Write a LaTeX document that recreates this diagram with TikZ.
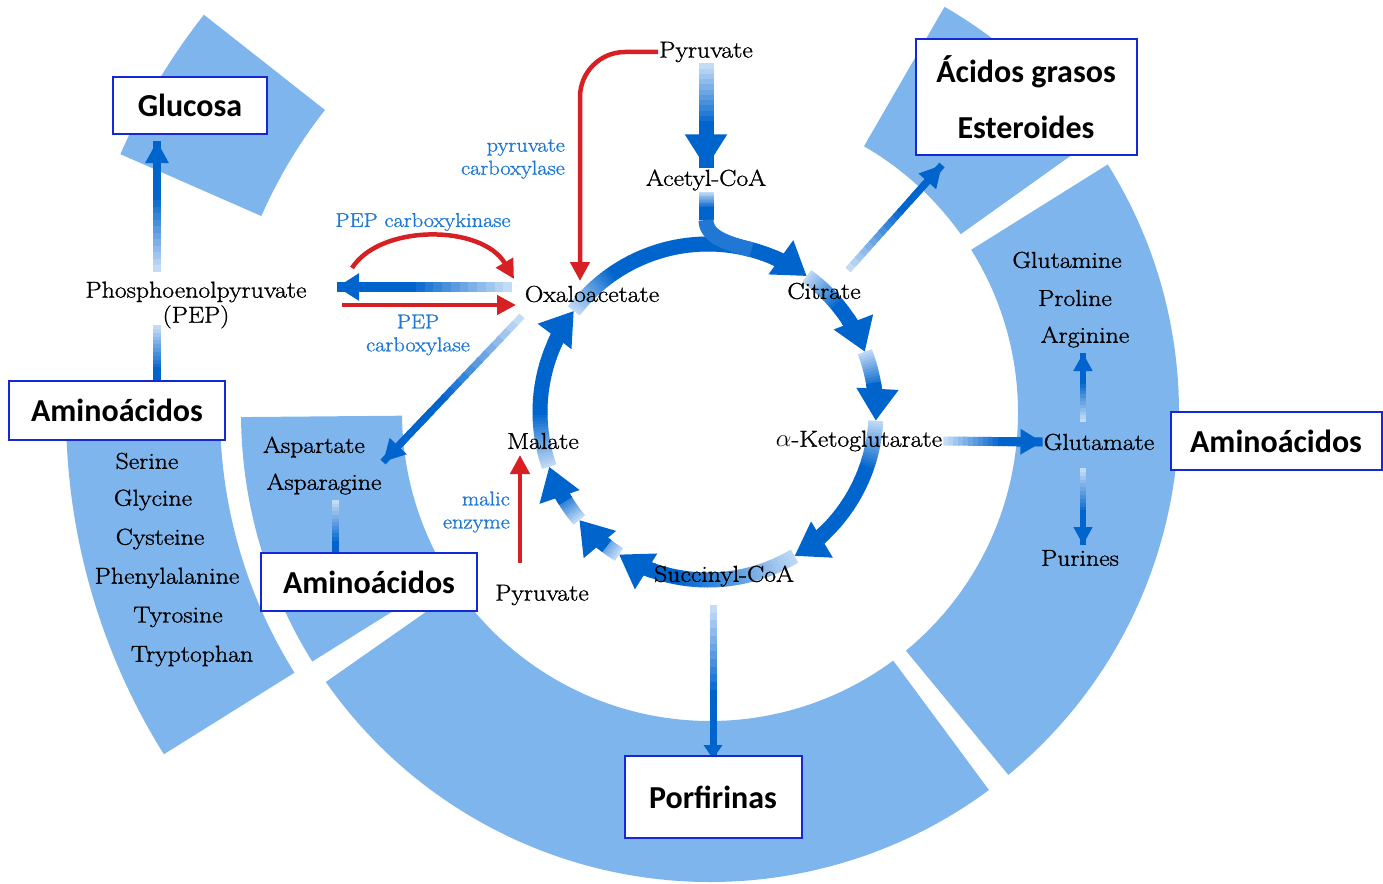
\documentclass[tikz,border=0pt]{standalone}
\usepackage{fontspec}
\newfontfamily\boxfont{Carlito}
\newfontfamily\labelfont{Latin Modern Roman}[FakeStretch=1.12,
  BoldFont={Latin Modern Roman}, BoldFeatures={FakeBold=1.2}]
\usetikzlibrary{arrows.meta,calc}

% Define colors
\definecolor{ringblue}{RGB}{126,181,236}
\definecolor{tcadark}{RGB}{0,100,205}
\definecolor{tcalight}{RGB}{222,236,252}
\definecolor{tcared}{RGB}{215,32,35}
\definecolor{enzblue}{RGB}{30,120,212}
\definecolor{boxblue}{RGB}{20,40,215}

\pgfdeclarelayer{pieces}
\pgfdeclarelayer{flows}
\pgfsetlayers{pieces,flows,main}

\tikzset{
  met/.style={font=\labelfont\bfseries\fontsize{23}{25}\selectfont, inner sep=1pt},
  enz/.style={font=\labelfont\bfseries\fontsize{20}{23}\selectfont, text=enzblue, inner sep=1pt},
  resbox/.style={draw=boxblue, line width=2pt, fill=white, inner sep=0pt,
    font=\boxfont\bfseries\fontsize{32}{38}\selectfont},
  redflow/.style={draw=tcared, line width=4.5pt, -{Triangle[width=19pt,length=19pt]}},
}

% sector of a ring round the hub: start, end, inner and outer radius
\newcommand\ringpiece[4]{%
  \fill[ringblue] ($(hub)+(#1:#3)$) arc[start angle=#1, end angle=#2, radius=#3]
    -- ($(hub)+(#2:#4)$) arc[start angle=#2, end angle=#1, radius=#4] -- cycle;
}

% straight line going from pale to dark blue
\newcommand\fadeline[3]{%
  \foreach \k in {0,...,19}{%
    \pgfmathsetmacro\fadeA{\k/20}%
    \pgfmathsetmacro\fadeB{min(1,(\k+1.3)/20)}%
    \pgfmathtruncatemacro\fadepct{min(100,12+\k*8)}%
    \draw[line width=#3, draw=tcadark!\fadepct!tcalight] ($(#1)!\fadeA!(#2)$) -- ($(#1)!\fadeB!(#2)$);
  }%
}
\newcommand\fadearrow[5]{%
  \fadeline{#1}{#2}{#3}%
  \draw[line width=#3, tcadark, -{Triangle[width=#4,length=#5]}] ($(#1)!0.65!(#2)$) -- (#2);
}

% one step of the cycle: start angle, tip angle, fade length
\newcommand\tcastep[3]{%
  \pgfmathtruncatemacro\tcastop{#2-8}%
  \pgfmathtruncatemacro\tcanext{#1+1}%
  \foreach \a in {#1,\tcanext,...,\tcastop}{%
    \pgfmathtruncatemacro\tcapct{min(100,15+85*(\a-(#1))/#3)}%
    \draw[line width=15pt, draw=tcadark!\tcapct!tcalight] ($(tca)+(\a:168)$) arc[start angle=\a, end angle=\a+1.2, radius=168];
  }%
  \draw[line width=15pt, tcadark, -{Triangle[width=40pt,length=32pt]}] ($(tca)+(#2-13:168)$) arc[start angle=#2-13, end angle=#2, radius=168];
}

\begin{document}
\begin{tikzpicture}[x=1pt, y=-1pt]
\useasboundingbox (0,0) rectangle (1383,883);
\coordinate (hub) at (710,413);
\coordinate (tca) at (708,412);

% Outer ring of products
\begin{pgfonlayer}{pieces}
\ringpiece{-32}{50.5}{308}{469}
\ringpiece{53.5}{145}{308}{469}
\ringpiece{148}{179.5}{308}{469}
\ringpiece{-60}{-35.5}{308}{469}
\ringpiece{148}{177.5}{490}{644}
\ringpiece{-156.3}{-141.8}{490}{644}
\end{pgfonlayer}

% Cycle intermediates
\node[met] (pyrT) at (706,52) {Pyruvate};
\node[met] (acoa) at (706,180) {Acetyl-CoA};
\node[met] (oaa) at (592,294) {Oxaloacetate};
\node[met] (cit) at (824,291) {Citrate};
\node[met] (akg) at (859,441) {$\alpha$-Ketoglutarate};
\node[met] (succ) at (724,576) {Succinyl-CoA};
\node[met] (mal) at (543,441) {Malate};
\node[met] (pyrB) at (542,595) {Pyruvate};
\node[met, align=center] (pep) at (196,305) {Phosphoenolpyruvate\\(PEP)};

% Enzymes
\node[enz, align=right, anchor=east] (pcx) at (566,159) {pyruvate\\carboxylase};
\node[enz] (pepck) at (423,222) {PEP carboxykinase};
\node[enz, align=center] (pepc) at (418,335) {PEP\\carboxylase};
\node[enz, align=right, anchor=east] (malic) at (511,512) {malic\\enzyme};

% Amino acids and bases
\node[met] (gln) at (1067,260) {Glutamine};
\node[met] (pro) at (1075,298) {Proline};
\node[met] (arg) at (1085,337) {Arginine};
\node[met] (glu) at (1099,442) {Glutamate};
\node[met] (pur) at (1080,558) {Purines};
\node[met] (asp) at (314,447) {Aspartate};
\node[met] (asn) at (324,484) {Asparagine};
\node[met] (ser) at (147,461) {Serine};
\node[met] (gly) at (153,500) {Glycine};
\node[met] (cys) at (160,539) {Cysteine};
\node[met] (phe) at (167,578) {Phenylalanine};
\node[met] (tyr) at (178,617) {Tyrosine};
\node[met] (trp) at (192,656) {Tryptophan};

% Product boxes
\node[resbox, minimum width=154pt, minimum height=57pt] (glc) at (190,105) {Glucosa};
\node[resbox, minimum width=221pt, minimum height=116pt, align=center,
  font=\boxfont\bfseries\fontsize{32}{56}\selectfont] (fat) at (1026,97) {Ácidos grasos\\Esteroides};
\node[resbox, minimum width=216pt, minimum height=59pt] (aminoL) at (117,410) {Aminoácidos};
\node[resbox, minimum width=216pt, minimum height=58pt] (aminoM) at (369,582) {Aminoácidos};
\node[resbox, minimum width=211pt, minimum height=58pt] (aminoR) at (1276,441) {Aminoácidos};
\node[resbox, minimum width=177pt, minimum height=82pt] (porf) at (713,797) {Porfirinas};

% Loose ends
\coordinate (stemA) at (706,220);
\coordinate (ringjoin) at ($(tca)+(-75:168)$);
\coordinate (oaaL) at (512,287);
\coordinate (pepR) at (337,287);
\coordinate (pepRr) at (342,305);
\coordinate (oaaLr) at (516,305);
\coordinate (pepUp) at (352,268);
\coordinate (oaaUp) at (514,279);
\coordinate (oaaTop) at (580,281);
\coordinate (malicS) at (520,563);
\coordinate (malicE) at (520,455);
\coordinate (pepHi) at (157,272);
\coordinate (glcIn) at (157,141);
\coordinate (pepLo) at (157,325);
\coordinate (aaLin) at (157,402);
\coordinate (oaaSW) at (522,316);
\coordinate (aspE) at (383,462);
\coordinate (asnLo) at (335,500);
\coordinate (aaMin) at (335,574);
\coordinate (succLo) at (713,605);
\coordinate (porfIn) at (713,759);
\coordinate (citUp) at (848,270);
\coordinate (fatIn) at (942,165);
\coordinate (gluUp) at (1083,422);
\coordinate (argLo) at (1083,353);
\coordinate (gluLo) at (1083,468);
\coordinate (purUp) at (1083,545);

\begin{pgfonlayer}{flows}
% Citric acid cycle
\tcastep{-143}{-54}{18}
\tcastep{-54}{-21}{14}
\tcastep{-21}{3}{12}
\tcastep{3}{59}{16}
\tcastep{59}{122}{40}
\tcastep{122}{140}{10}
\tcastep{140}{161}{10}
\tcastep{161}{217}{18}

% Acetyl-CoA entry
\fadearrow{pyrT.south}{acoa.north}{15pt}{40pt}{34pt}
\fadeline{acoa.south}{stemA}{15pt}
\draw[line width=15pt, tcadark!85!tcalight] (stemA) .. controls (706,238) and (730,244) .. (ringjoin);

% Blue outflows
\fadearrow{oaaL}{pepR}{10pt}{26pt}{22pt}
\fadearrow{pepHi}{glcIn}{8pt}{22pt}{22pt}
\fadearrow{pepLo}{aaLin}{8pt}{20pt}{18pt}
\fadearrow{oaaSW}{aspE}{7pt}{22pt}{22pt}
\fadearrow{asnLo}{aaMin}{7pt}{18pt}{16pt}
\fadearrow{succLo}{porfIn}{7pt}{18pt}{14pt}
\fadearrow{citUp}{fatIn}{7pt}{22pt}{22pt}
\fadearrow{akg.east}{glu.west}{9pt}{24pt}{22pt}
\fadearrow{gluUp}{argLo}{6pt}{18pt}{18pt}
\fadearrow{gluLo}{purUp}{6pt}{18pt}{18pt}

% Red anaplerotic reactions
\draw[redflow] (pepRr) -- (oaaLr);
\draw[redflow] (pepUp) .. controls (380,224) and (482,224) .. (oaaUp);
\draw[redflow, rounded corners=45pt] (pyrT.west) -| (oaaTop);
\draw[redflow] (malicS) -- (malicE);
\end{pgfonlayer}
\end{tikzpicture}
\end{document}
